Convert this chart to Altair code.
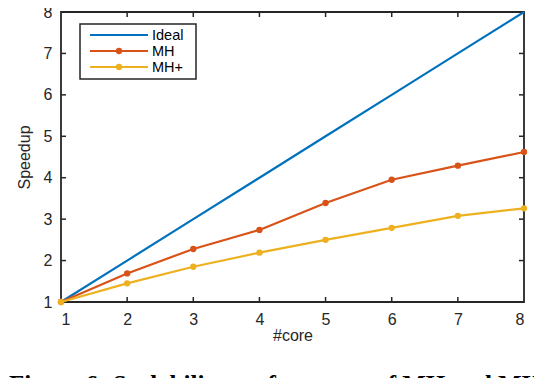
import altair as alt
import pandas as pd

cores = [1, 2, 3, 4, 5, 6, 7, 8]
ideal = [1, 2, 3, 4, 5, 6, 7, 8]
mh = [1.0, 1.69, 2.28, 2.74, 3.39, 3.95, 4.29, 4.62]
mhplus = [1.0, 1.45, 1.85, 2.19, 2.50, 2.79, 3.08, 3.26]
series = ["Ideal", "MH", "MH+"]
colors = ["#0072BD", "#D95319", "#EDB120"]
x_ticks = [2, 3, 4, 5, 6, 7]
y_ticks = [2, 3, 4, 5, 6, 7]
caption = "Figure 6: Scalability performance of MH and MH+"

W, H = 463, 290
FONT = "Liberation Sans"
DARK = "#262626"
FS = 16

rows = []
for name, vals in zip(series, [ideal, mh, mhplus]):
    for c, v in zip(cores, vals):
        rows.append({"core": c, "speedup": v, "series": name})
df = pd.DataFrame(rows)

xs = alt.Scale(domain=[1, 8], nice=False)
ys = alt.Scale(domain=[1, 8], nice=False)
cscale = alt.Scale(domain=series, range=colors)

base = alt.Chart(df)

lines = base.mark_line(strokeWidth=2.2).encode(
    x=alt.X("core:Q", scale=xs, title="#core",
            axis=alt.Axis(values=cores, format="d", tickSize=0, domain=False, grid=False,
                          labelFont=FONT, labelFontSize=FS, labelColor=DARK,
                          labelPadding=9, titleFont=FONT, titleFontSize=FS,
                          titleFontWeight="normal", titleColor=DARK, titlePadding=0)),
    y=alt.Y("speedup:Q", scale=ys, title="Speedup",
            axis=alt.Axis(values=cores, format="d", tickSize=0, domain=False, grid=False,
                          labelFont=FONT, labelFontSize=FS, labelColor=DARK,
                          labelPadding=9, titleFont=FONT, titleFontSize=FS,
                          titleFontWeight="normal", titleColor=DARK, titlePadding=11)),
    color=alt.Color("series:N", scale=cscale, legend=None),
    detail="series:N",
)

points = base.transform_filter(alt.datum.series != "Ideal").mark_circle(size=40, opacity=1).encode(
    x=alt.X("core:Q", scale=xs),
    y=alt.Y("speedup:Q", scale=ys),
    color=alt.Color("series:N", scale=cscale, legend=None),
)

xt = pd.DataFrame({"t": x_ticks})
yt = pd.DataFrame({"t": y_ticks})
TL = 5
tick_bottom = alt.Chart(xt).mark_rule(color=DARK, strokeWidth=1.5).encode(
    x=alt.X("t:Q", scale=xs), y=alt.value(H), y2=alt.value(H - TL))
tick_top = alt.Chart(xt).mark_rule(color=DARK, strokeWidth=1.5).encode(
    x=alt.X("t:Q", scale=xs), y=alt.value(0), y2=alt.value(TL))
tick_left = alt.Chart(yt).mark_rule(color=DARK, strokeWidth=1.5).encode(
    y=alt.Y("t:Q", scale=ys), x=alt.value(0), x2=alt.value(TL))
tick_right = alt.Chart(yt).mark_rule(color=DARK, strokeWidth=1.5).encode(
    y=alt.Y("t:Q", scale=ys), x=alt.value(W), x2=alt.value(W - TL))

# manual legend
one = pd.DataFrame({"a": [0]})
legend_box = alt.Chart(one).mark_rect(fill="white", stroke=DARK, strokeWidth=1.5).encode(
    x=alt.value(19), x2=alt.value(135), y=alt.value(12), y2=alt.value(67))
legend_layers = [legend_box]
row_y = [23, 39, 55]
for i, (name, col) in enumerate(zip(series, colors)):
    legend_layers.append(alt.Chart(one).mark_rule(color=col, strokeWidth=2.2).encode(
        x=alt.value(29), x2=alt.value(87), y=alt.value(row_y[i])))
    if name != "Ideal":
        legend_layers.append(alt.Chart(one).mark_circle(color=col, size=40, opacity=1).encode(
            x=alt.value(58), y=alt.value(row_y[i])))
    legend_layers.append(alt.Chart(one).mark_text(
        text=name, align="left", baseline="middle", font=FONT, fontSize=14.5, color="black").encode(
        x=alt.value(91), y=alt.value(row_y[i] + 1)))

cap = alt.Chart(one).mark_text(
    text=caption, align="left", baseline="alphabetic", font="Liberation Serif",
    fontWeight="bold", fontSize=25, color="black").encode(
    x=alt.value(-52), y=alt.value(381))

chart = alt.layer(
    lines, points, tick_bottom, tick_top, tick_left, tick_right, *legend_layers, cap
).properties(
    width=W, height=H,
    autosize=alt.AutoSizeParams(type="none"),
    padding={"left": 53, "top": 4, "right": 10, "bottom": 90},
).configure_view(stroke=DARK, strokeWidth=1.8)

chart.save("out.html", embed_options={"renderer": "svg", "actions": False})
